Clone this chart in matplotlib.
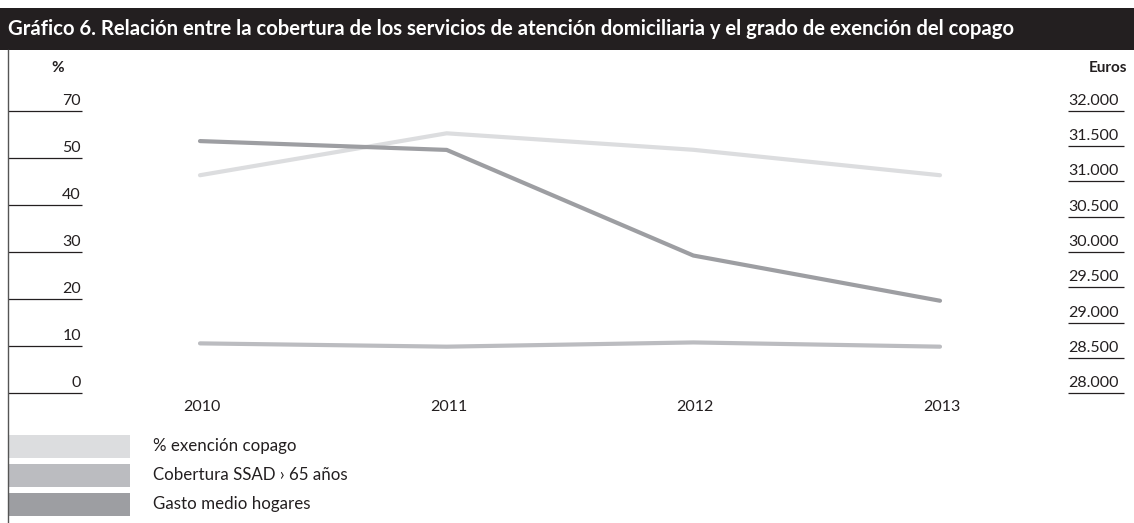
import matplotlib
matplotlib.use("Agg")
import matplotlib.pyplot as plt
from matplotlib.patches import Rectangle
from matplotlib.lines import Line2D

# data
years = [2010, 2011, 2012, 2013]
exencion = [46.3, 55.2, 51.7, 46.3]          # % (left axis)
cobertura = [10.6, 9.9, 10.8, 9.9]           # % (left axis)
gasto = [31570, 31445, 29950, 29310]         # euros (right axis)

left_ticks = [0, 10, 20, 30, 40, 50, 60]
left_labels = ["0", "10", "20", "30", "40", "50", "70"]   # as printed in the original
right_ticks = [28000, 28500, 29000, 29500, 30000, 30500, 31000, 31500, 32000]
right_labels = ["28.000", "28.500", "29.000", "29.500", "30.000", "30.500",
                "31.000", "31.500", "32.000"]

series_names = ["% exención copago", "Cobertura SSAD › 65 años", "Gasto medio hogares"]
colors = ["#dcdddf", "#bbbcc0", "#9d9ea2"]

title = ("Gráfico 6. Relación entre la cobertura de los servicios de atención "
         "domiciliaria y el grado de exención del copago")

plt.rcParams['font.family'] = ['Lato', 'DejaVu Sans']
txt = "#231f20"

W, H = 1134, 523
fig = plt.figure(figsize=(W / 100, H / 100), dpi=100)

def fx(px):
    return px / W

def fy(py):
    return 1 - py / H

# title bar
fig.patches.append(Rectangle((0, fy(49.5)), 1, fy(8) - fy(49.5), transform=fig.transFigure,
                             facecolor="#231f20", edgecolor="none"))
fig.text(fx(8), fy(29.5), title, color="white", fontsize=14.6, fontweight="bold",
         va="center", ha="left")

# left vertical rule
fig.add_artist(Line2D([fx(8.3), fx(8.3)], [fy(50), fy(523)], transform=fig.transFigure,
                      color="#555555", lw=1.0))

# main axes: x from 8px to 1124px, y from 393.3 (0) to 110.7 (60)
x0, x1 = 8, 1124
y0, y1 = 393.3, 110.7
ax = fig.add_axes([fx(x0), fy(y0), fx(x1) - fx(x0), fy(y1) - fy(y0)])
px_per_year = (940 - 200) / 3
ax.set_xlim(2010 - (200 - x0) / px_per_year, 2013 + (x1 - 940) / px_per_year)
ax.set_ylim(0, 60)
ax.axis("off")

ax2 = ax.twinx()
ax2.set_ylim(28000, 32000)
ax2.axis("off")

lw = 3.0
ax.plot(years, exencion, color=colors[0], lw=lw, solid_capstyle="round", solid_joinstyle="round", zorder=3)
ax.plot(years, cobertura, color=colors[1], lw=lw, solid_capstyle="round", solid_joinstyle="round", zorder=3)
ax2.plot(years, gasto, color=colors[2], lw=lw, solid_capstyle="round", solid_joinstyle="round", zorder=2)

# left ticks
lfrac = (82 - x0) / (x1 - x0)
ax.hlines(left_ticks, 0, lfrac, transform=ax.get_yaxis_transform(), color=txt, lw=0.9,
          clip_on=False)
for v, lab in zip(left_ticks, left_labels):
    ax.annotate(lab, (lfrac, v), xycoords=ax.get_yaxis_transform(), xytext=(-1, 3),
                textcoords="offset pixels", ha="right", va="bottom", fontsize=11.5, color=txt)
ax.annotate("%", (lfrac, 60), xycoords=ax.get_yaxis_transform(), xytext=(-18, 36),
            textcoords="offset pixels", ha="right", va="bottom", fontsize=11,
            fontweight="bold", color=txt)

# right ticks
rfrac = (1068 - x0) / (x1 - x0)
ax2.hlines(right_ticks, rfrac, 1, transform=ax2.get_yaxis_transform(), color=txt, lw=0.9,
           clip_on=False)
for v, lab in zip(right_ticks, right_labels):
    ax2.annotate(lab, (rfrac, v), xycoords=ax2.get_yaxis_transform(), xytext=(0, 3),
                 textcoords="offset pixels", ha="left", va="bottom", fontsize=11.5, color=txt)
ax2.annotate("Euros", (1.0, 32000), xycoords=ax2.get_yaxis_transform(), xytext=(3, 36),
             textcoords="offset pixels", ha="right", va="bottom", fontsize=11,
             fontweight="bold", color=txt)

# year labels
for yr in years:
    ax.annotate(str(yr), (yr, 0), xycoords=ax.get_xaxis_transform(), xytext=(2, -14),
                textcoords="offset pixels", ha="center", va="center", fontsize=11.5, color=txt)

# legend
sw_top = [435, 464, 493]
for top, name, c in zip(sw_top, series_names, colors):
    fig.patches.append(Rectangle((fx(8.3), fy(top + 23)), fx(130) - fx(8.3), fy(top) - fy(top + 23),
                                 transform=fig.transFigure, facecolor=c, edgecolor="none"))
    fig.text(fx(153), fy(top + 11.5), name, fontsize=12.2, color=txt, va="center", ha="left")

fig.savefig("out.png", dpi=100)
